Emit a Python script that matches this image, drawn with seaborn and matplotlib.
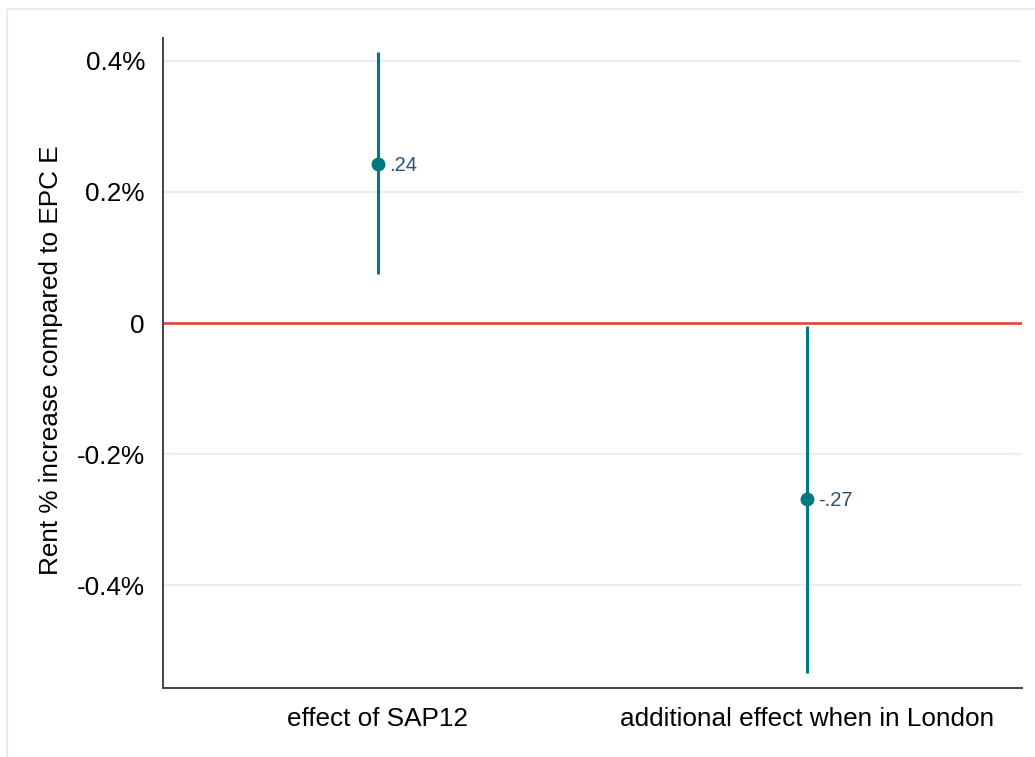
import matplotlib
matplotlib.use("Agg")
import matplotlib.pyplot as plt
from matplotlib.lines import Line2D
import seaborn as sns
import pandas as pd

# ---- data ----
categories = ["effect of SAP12", "additional effect when in London"]
estimates = [0.243, -0.269]
ci_low = [0.075, -0.534]
ci_high = [0.414, -0.005]
point_labels = [".24", "-.27"]
ytick_values = [-0.4, -0.2, 0.0, 0.2, 0.4]
ytick_labels = ["-0.4%", "-0.2%", "0", "0.2%", "0.4%"]
ylabel = "Rent % increase compared to EPC E"

sns.set_theme(style="white")
plt.rcParams["font.family"] = ["Liberation Sans", "DejaVu Sans"]

teal = "#00787f"
red = "#e5413a"
grid_c = "#e6eff1"
spine_c = "#444444"
label_c = "#2c4f7c"

fig = plt.figure(figsize=(10.35, 7.57), dpi=100)
ax = fig.add_axes([163/1035, 1-688/757, (1022-163)/1035, (688-38)/757])

df = pd.DataFrame({"category": categories, "estimate": estimates,
                   "lo": ci_low, "hi": ci_high})

# grid lines
for v in ytick_values:
    if v != 0:
        ax.axhline(v, color=grid_c, lw=1.6, zorder=0)
ax.axhline(0, color=red, lw=1.9, zorder=1)

ax.vlines(df["category"], df["lo"], df["hi"], color=teal, lw=2.2, zorder=2)
sns.scatterplot(data=df, x="category", y="estimate", ax=ax, color=teal,
                s=100, edgecolor=teal, linewidth=0, zorder=3, legend=False)

for i, (est, lab) in enumerate(zip(estimates, point_labels)):
    ax.annotate(lab, xy=(i, est), xytext=(8, -1), textcoords="offset points",
                va="center", ha="left", fontsize=14.5, color=label_c)

ax.set_xlim(-0.5, 1.5)
ax.set_ylim(-0.557, 0.435)
ax.set_yticks(ytick_values)
ax.set_yticklabels(ytick_labels)
ax.set_xticks(range(len(categories)))
ax.set_xticklabels(categories)
ax.tick_params(axis="both", labelsize=18.8, colors="black", length=7,
               width=1.2, direction="out", pad=6)
ax.tick_params(axis="x", length=8, pad=6)
for t in ax.get_xticklines() + ax.get_yticklines():
    t.set_color(spine_c)
ax.set_xlabel("")
ax.set_ylabel(ylabel, fontsize=18.8, color="black")
ax.yaxis.set_label_coords(-0.1164, 0.504)

for s in ["top", "right"]:
    ax.spines[s].set_visible(False)
for s in ["left", "bottom"]:
    ax.spines[s].set_color(spine_c)
    ax.spines[s].set_linewidth(1.4)

# faint outer frame
fig.add_artist(Line2D([7/1035, 7/1035], [0, 1-9/757], color="#e4eef0", lw=1.5,
                      transform=fig.transFigure))
fig.add_artist(Line2D([7/1035, 1], [1-9/757, 1-9/757], color="#e4eef0", lw=1.5,
                      transform=fig.transFigure))

fig.savefig("out.png", dpi=100)
